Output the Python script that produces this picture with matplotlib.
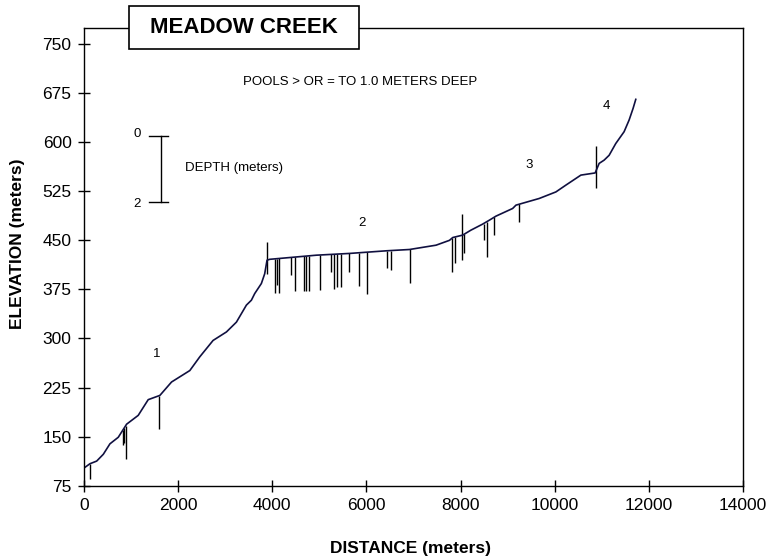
import matplotlib
matplotlib.use("Agg")
import matplotlib.pyplot as plt
from matplotlib.patches import Rectangle
import numpy as np

plt.rcParams['font.family'] = ['Liberation Sans', 'DejaVu Sans']

# Longitudinal profile (distance m, elevation m)
dist = [0, 127, 269, 410, 551, 728, 905, 1152, 1364, 1612, 1860, 2248, 2460,
        2742, 3026, 3238, 3450, 3556, 3627, 3768, 3839, 3888, 3945, 4369, 4935,
        5642, 6420, 6914, 7479, 7764, 7834, 8045, 8218, 8466, 8611, 8752, 9106,
        9177, 9671, 10025, 10237, 10556, 10859, 10944, 11050, 11156, 11297,
        11474, 11580, 11665, 11722]
elev = [102, 108.6, 112.6, 123, 139, 149, 169, 182.5, 206.5, 213, 233.5, 251,
        272, 297, 310, 325, 351, 358.5, 368.7, 384, 399, 419.6, 421, 423.7,
        427.3, 430, 434, 436, 442.6, 450, 454.3, 458, 465.5, 474.7, 480.8, 487,
        498.7, 503.8, 514, 524, 534.4, 549.7, 553, 567.6, 572.6, 580, 598, 616,
        633.8, 651.7, 665.5]

# Pools >= 1.0 m deep: location and plotted bottom
pool_x = [127, 820, 860, 884, 1584, 4051, 4100, 4150, 4405, 4476, 4666, 4723,
          4780, 5020, 5253, 5303, 5374, 5466, 5627, 5839, 6009, 6433, 6525,
          6935, 7820, 7884, 8077, 8490, 8554, 8716, 9247]
pool_bottom = [84.6, 137.7, 140, 116, 162, 369.6, 381, 370, 396.7, 372, 373,
               373, 373, 374, 401.7, 376, 378, 378, 402, 380, 367.6, 407, 404,
               385.5, 401.7, 415.5, 431.4, 450, 424.7, 458, 478]

# Vertical marker rods crossing the profile
rod_x = [3888, 8031, 10873]
rod_low = [399, 420.7, 529.3]
rod_high = [447.6, 491, 594]

# Reach labels
reach_labels = ['1', '2', '3', '4']
reach_x = [1550, 5900, 9460, 11090]
reach_y = [276, 476, 565, 656]

xticks = list(range(0, 14001, 2000))
yticks = list(range(75, 751, 75))

fig = plt.figure(figsize=(7.68, 5.6), dpi=100)
ax = fig.add_axes([84/768, 1-485.7/560, (743-84)/768, (485.7-27.7)/560])

prof_at_pool = np.interp(pool_x, dist, elev)
ax.vlines(pool_x, pool_bottom, prof_at_pool, colors='black', linewidth=1.0)
ax.vlines(rod_x, rod_low, rod_high, colors='black', linewidth=1.0)
ax.plot(dist, elev, color='#101040', linewidth=1.2)

ax.set_xlim(0, 14000)
ax.set_ylim(75, 775)
ax.set_xticks(xticks)
ax.set_yticks(yticks)
ax.tick_params(direction='inout', length=8, width=1, labelsize=12.5, pad=5)
for s in ax.spines.values():
    s.set_linewidth(1.0)

ax.set_xlabel('DISTANCE (meters)', fontsize=12.5, fontweight='bold')
ax.xaxis.set_label_coords(0.496, -0.12)
ax.set_ylabel('ELEVATION (meters)', fontsize=12.5, fontweight='bold')
ax.yaxis.set_label_coords(-0.09, 0.528)

for lab, x, y in zip(reach_labels, reach_x, reach_y):
    ax.text(x, y, lab, fontsize=9.5, ha='center', va='center')

ax.text(5875, 692, 'POOLS > OR = TO 1.0 METERS DEEP', fontsize=9.5,
        ha='center', va='center')

# depth scale bar
ax.plot([1640, 1640], [508, 609], color='black', linewidth=1)
ax.plot([1390, 1780], [609, 609], color='black', linewidth=1)
ax.plot([1390, 1780], [508, 508], color='black', linewidth=1)
ax.text(1125, 612, '0', fontsize=9.5, ha='center', va='center')
ax.text(1125, 505, '2', fontsize=9.5, ha='center', va='center')
ax.text(2140, 560, 'DEPTH (meters)', fontsize=9.5, ha='left', va='center')

# title box
fig.patches.append(Rectangle((129/768, 1-48.7/560), 230/768, 42.7/560,
                             transform=fig.transFigure, facecolor='white',
                             edgecolor='black', linewidth=1.2, zorder=5))
fig.text(244/768, 1-27.5/560, 'MEADOW CREEK', fontsize=16, fontweight='bold',
         ha='center', va='center', zorder=6)

fig.savefig('out.png', dpi=100)
